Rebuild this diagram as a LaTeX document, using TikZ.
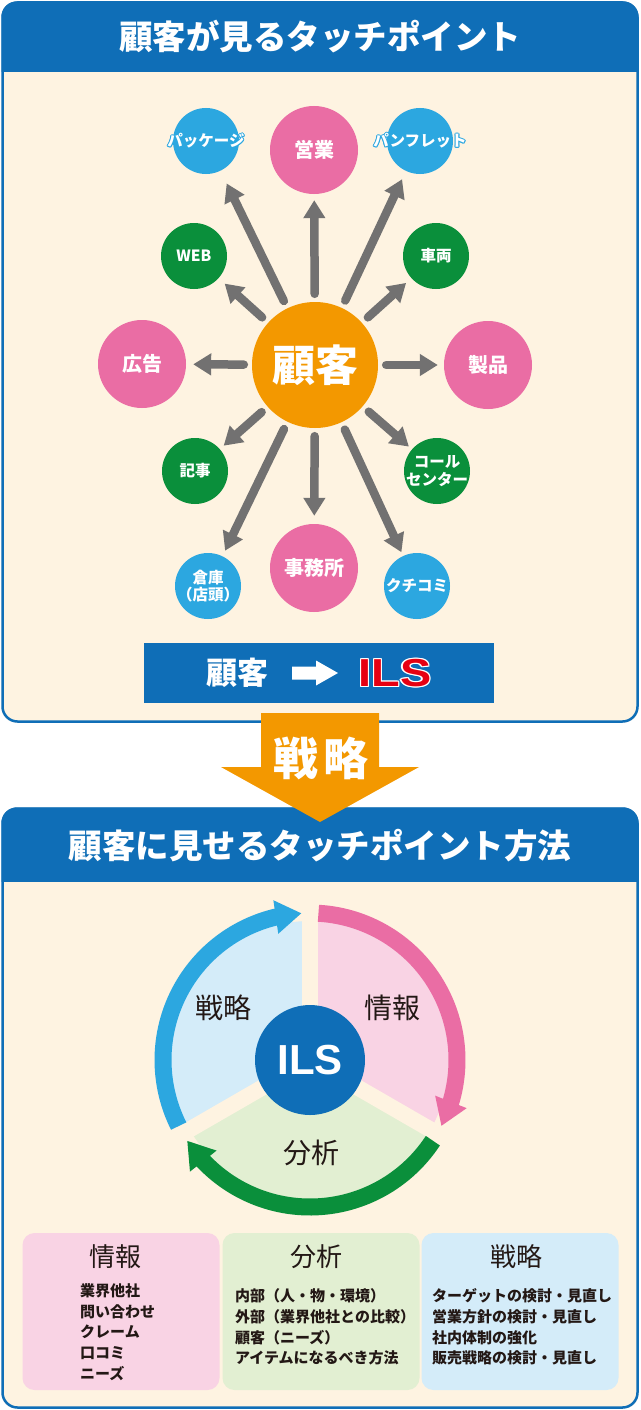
\documentclass[tikz,border=0pt]{standalone}
\usepackage{fontspec}
\setmainfont{Noto Sans CJK JP}
\newfontfamily\ilsfont{Liberation Sans}
\usetikzlibrary{arrows.meta,bending}
\definecolor{hdrblue}{HTML}{0F6EB7}
\definecolor{cream}{HTML}{FEF3E1}
\definecolor{cpink}{HTML}{EA6DA4}
\definecolor{cblue}{HTML}{2CA7E0}
\definecolor{cgreen}{HTML}{0A8F3B}
\definecolor{corange}{HTML}{F39800}
\definecolor{cgray}{HTML}{727171}
\definecolor{lpink}{HTML}{F9D3E4}
\definecolor{lblue}{HTML}{D4ECF9}
\definecolor{lgreen}{HTML}{E2EFD2}
\definecolor{dtext}{HTML}{231815}
\definecolor{ilsred}{HTML}{E60012}
\newcommand\zw[1]{\makebox[0pt]{#1}}
\newcommand\olone[4]{\rlap{\hspace*{#3}\raisebox{#4}{\textcolor{#1}{#2}}}}
\newcommand\outl[4]{\olone{#1}{#2}{#3}{0pt}\olone{#1}{#2}{-#3}{0pt}\olone{#1}{#2}{0pt}{#3}\olone{#1}{#2}{0pt}{-#3}\olone{#1}{#2}{#4}{#4}\olone{#1}{#2}{-#4}{#4}\olone{#1}{#2}{#4}{-#4}\olone{#1}{#2}{-#4}{-#4}}
\newcommand\bluewhite[1]{\makebox[0pt]{\outl{cblue}{#1}{1.1pt}{0.8pt}\textcolor{white}{#1}}}
\newcommand\ilstext{\scalebox{1.2}[1]{\ilsfont\bfseries ILS}}
\tikzset{
 bigc/.style={circle, fill=cpink, minimum size=88pt, inner sep=0pt, text=white, font=\fontsize{20}{22}\selectfont\bfseries},
 smallc/.style={circle, minimum size=66pt, inner sep=0pt, text=white, font=\fontsize{15.5}{17.5}\selectfont\bfseries, align=center},
 spoke/.style={draw=cgray, line width=8.5pt, line cap=round, -{Triangle[width=21pt,length=18pt]}, shorten <=8pt},
 arcarr/.style={line width=17pt, -{Triangle[width=32pt,length=26pt]}},
 sep/.style={draw=cream, line width=16pt},
 hdr/.style={text=white, font=\fontsize{33.5}{35}\selectfont\bfseries},
 seclab/.style={text=dtext, font=\fontsize{28}{30}\selectfont},
 boxc/.style={rounded corners=12pt, minimum width=197pt, minimum height=157pt, inner sep=0pt},
 boxtitle/.style={text=dtext, font=\fontsize{26}{28}\selectfont},
 listtxt/.style={anchor=north west, align=left, inner sep=0pt, text=dtext, font=\fontsize{15}{20.7}\selectfont\bfseries},
}
\begin{document}
\begin{tikzpicture}[x=1pt,y=1pt]
\useasboundingbox (0,0) rectangle (640,-1410);
\fill[white] (0,0) rectangle (640,-1410);
% ---------- top panel
\begin{scope}
\clip[rounded corners=15pt] (1.5,-1.5) rectangle (638.5,-722.5);
\fill[cream] (0,0) rectangle (640,-724);
\fill[hdrblue] (0,0) rectangle (640,-72);
\end{scope}
\draw[hdrblue, line width=2.5pt, rounded corners=15pt] (2.5,-2.5) rectangle (637.5,-721.5);
\node[hdr] (h1) at (320,-37) {顧客が見るタッチポイント};

\node[bigc, fill=corange, minimum size=126pt, font=\fontsize{43}{45}\selectfont\bfseries] (kok) at (315,-365) {顧客};
\node[bigc] (eigyo) at (314,-150) {営業};
\node[smallc, fill=cblue] (pkg) at (206,-141) {\bluewhite{パッケージ}};
\node[smallc, fill=cblue] (pamph) at (420,-141) {\bluewhite{パンフレット}};
\node[smallc, fill=cgreen] (web) at (194,-256) {WEB};
\node[smallc, fill=cgreen] (car) at (436,-256) {車両};
\node[bigc] (ad) at (142,-364) {広告};
\node[bigc] (prod) at (488,-365) {製品};
\node[smallc, fill=cgreen] (kiji) at (195,-471) {記事};
\node[smallc, fill=cgreen] (call) at (437,-471) {\zw{コール}\\\zw{センター}};
\node[smallc, fill=cblue] (soko) at (208,-586) {\zw{倉庫}\\\zw{（店頭）}};
\node[bigc] (jimu) at (314,-568) {事務所};
\node[smallc, fill=cblue] (kuchi) at (417,-586) {クチコミ};

\draw[spoke, shorten >=6pt] (kok) -- (eigyo);
\draw[spoke, shorten >=14pt] (kok) -- (pkg);
\draw[spoke, shorten >=9pt] (kok) -- (pamph);
\draw[spoke, shorten >=8pt] (kok) -- (web);
\draw[spoke, shorten >=7pt] (kok) -- (car);
\draw[spoke, shorten >=7pt] (kok) -- (ad);
\draw[spoke, shorten >=6pt] (kok) -- (prod);
\draw[spoke, shorten >=5pt] (kok) -- (kiji);
\draw[spoke, shorten >=6pt] (kok) -- (soko);
\draw[spoke, shorten >=8pt] (kok) -- (jimu);
\draw[spoke, shorten >=4pt] (kok) -- (kuchi);
\draw[spoke, shorten >=4pt] (kok) -- (call);

% blue bar
\node[fill=hdrblue, minimum width=350pt, minimum height=60pt, inner sep=0pt] (bar) at (319,-673) {};
\node[text=white, font=\fontsize{31}{33}\selectfont\bfseries] (barkok) at (237,-673) {顧客};
\fill[white] (292,-666.5) -- (316,-666.5) -- (316,-660.5) -- (338,-673) -- (316,-685.5) -- (316,-679.5) -- (292,-679.5) -- cycle;
\node[inner sep=0pt, font=\fontsize{39}{40}\selectfont] (barils) at (395,-673) {\outl{white}{\ilstext}{1.3pt}{0.9pt}\textcolor{ilsred}{\ilstext}};

% ---------- lower panel
\begin{scope}
\clip[rounded corners=15pt] (1.5,-807.5) rectangle (638.5,-1408.5);
\fill[cream] (0,-806) rectangle (640,-1410);
\fill[hdrblue] (0,-806) rectangle (640,-882);
\end{scope}
\draw[hdrblue, line width=2.5pt, rounded corners=15pt] (2.5,-808.5) rectangle (637.5,-1407.5);
\node[hdr] (h2) at (320,-846) {顧客に見せるタッチポイント方法};

% orange arrow
\fill[corange] (261,-713) -- (379,-713) -- (379,-767) -- (419,-767) -- (320,-822) -- (221,-767) -- (261,-767) -- cycle;
\node[text=white, font=\fontsize{45}{47}\selectfont\bfseries] (senr) at (321,-758) {戦\hspace{6pt}略};

% cycle
\coordinate (C) at (310,-1060);
\fill[lblue] (C) -- ++(90:139) arc[start angle=90, end angle=210, radius=139] -- cycle;
\fill[lpink] (C) -- ++(-30:139) arc[start angle=-30, end angle=90, radius=139] -- cycle;
\fill[lgreen] (C) -- ++(210:139) arc[start angle=210, end angle=330, radius=139] -- cycle;
\draw[sep] (C) -- ++(90:141);
\draw[sep] (C) -- ++(210:141);
\draw[sep] (C) -- ++(-30:141);
\draw[arcarr, draw=cblue] ([shift={(206.7:147)}]C) arc[start angle=206.7, end angle=93.3, radius=147];
\draw[arcarr, draw=cpink] ([shift={(86.7:147)}]C) arc[start angle=86.7, end angle=-26.7, radius=147];
\draw[arcarr, draw=cgreen] ([shift={(-33.3:147)}]C) arc[start angle=-33.3, end angle=-146.7, radius=147];
\node[circle, fill=hdrblue, minimum size=110pt, inner sep=0pt, text=white, font=\ilsfont\fontsize{42}{44}\selectfont\bfseries] (ils) at (C) {ILS};
\node[seclab] (s1) at (223,-1008) {戦略};
\node[seclab] (s2) at (392,-1008) {情報};
\node[seclab] (s3) at (311,-1153) {分析};

% bottom boxes
\node[boxc, fill=lpink] (bA) at (121,-1311.5) {};
\node[boxc, fill=lgreen] (bB) at (321,-1311.5) {};
\node[boxc, fill=lblue] (bC) at (520,-1311.5) {};
\node[boxtitle] (tA) at (115,-1257) {情報};
\node[boxtitle] (tB) at (316,-1257) {分析};
\node[boxtitle] (tC) at (516,-1257) {戦略};
\node[listtxt] (lA) at (80,-1283.5) {業界他社\\問い合わせ\\クレーム\\口コミ\\ニーズ};
\node[listtxt] (lB) at (235,-1288.5) {内部（人・物・環境）\\外部（業界他社との比較）\\顧客（ニーズ）\\アイテムになるべき方法};
\node[listtxt] (lC) at (432,-1288.5) {ターゲットの検討・見直し\\営業方針の検討・見直し\\社内体制の強化\\販売戦略の検討・見直し};
\end{tikzpicture}
\end{document}
